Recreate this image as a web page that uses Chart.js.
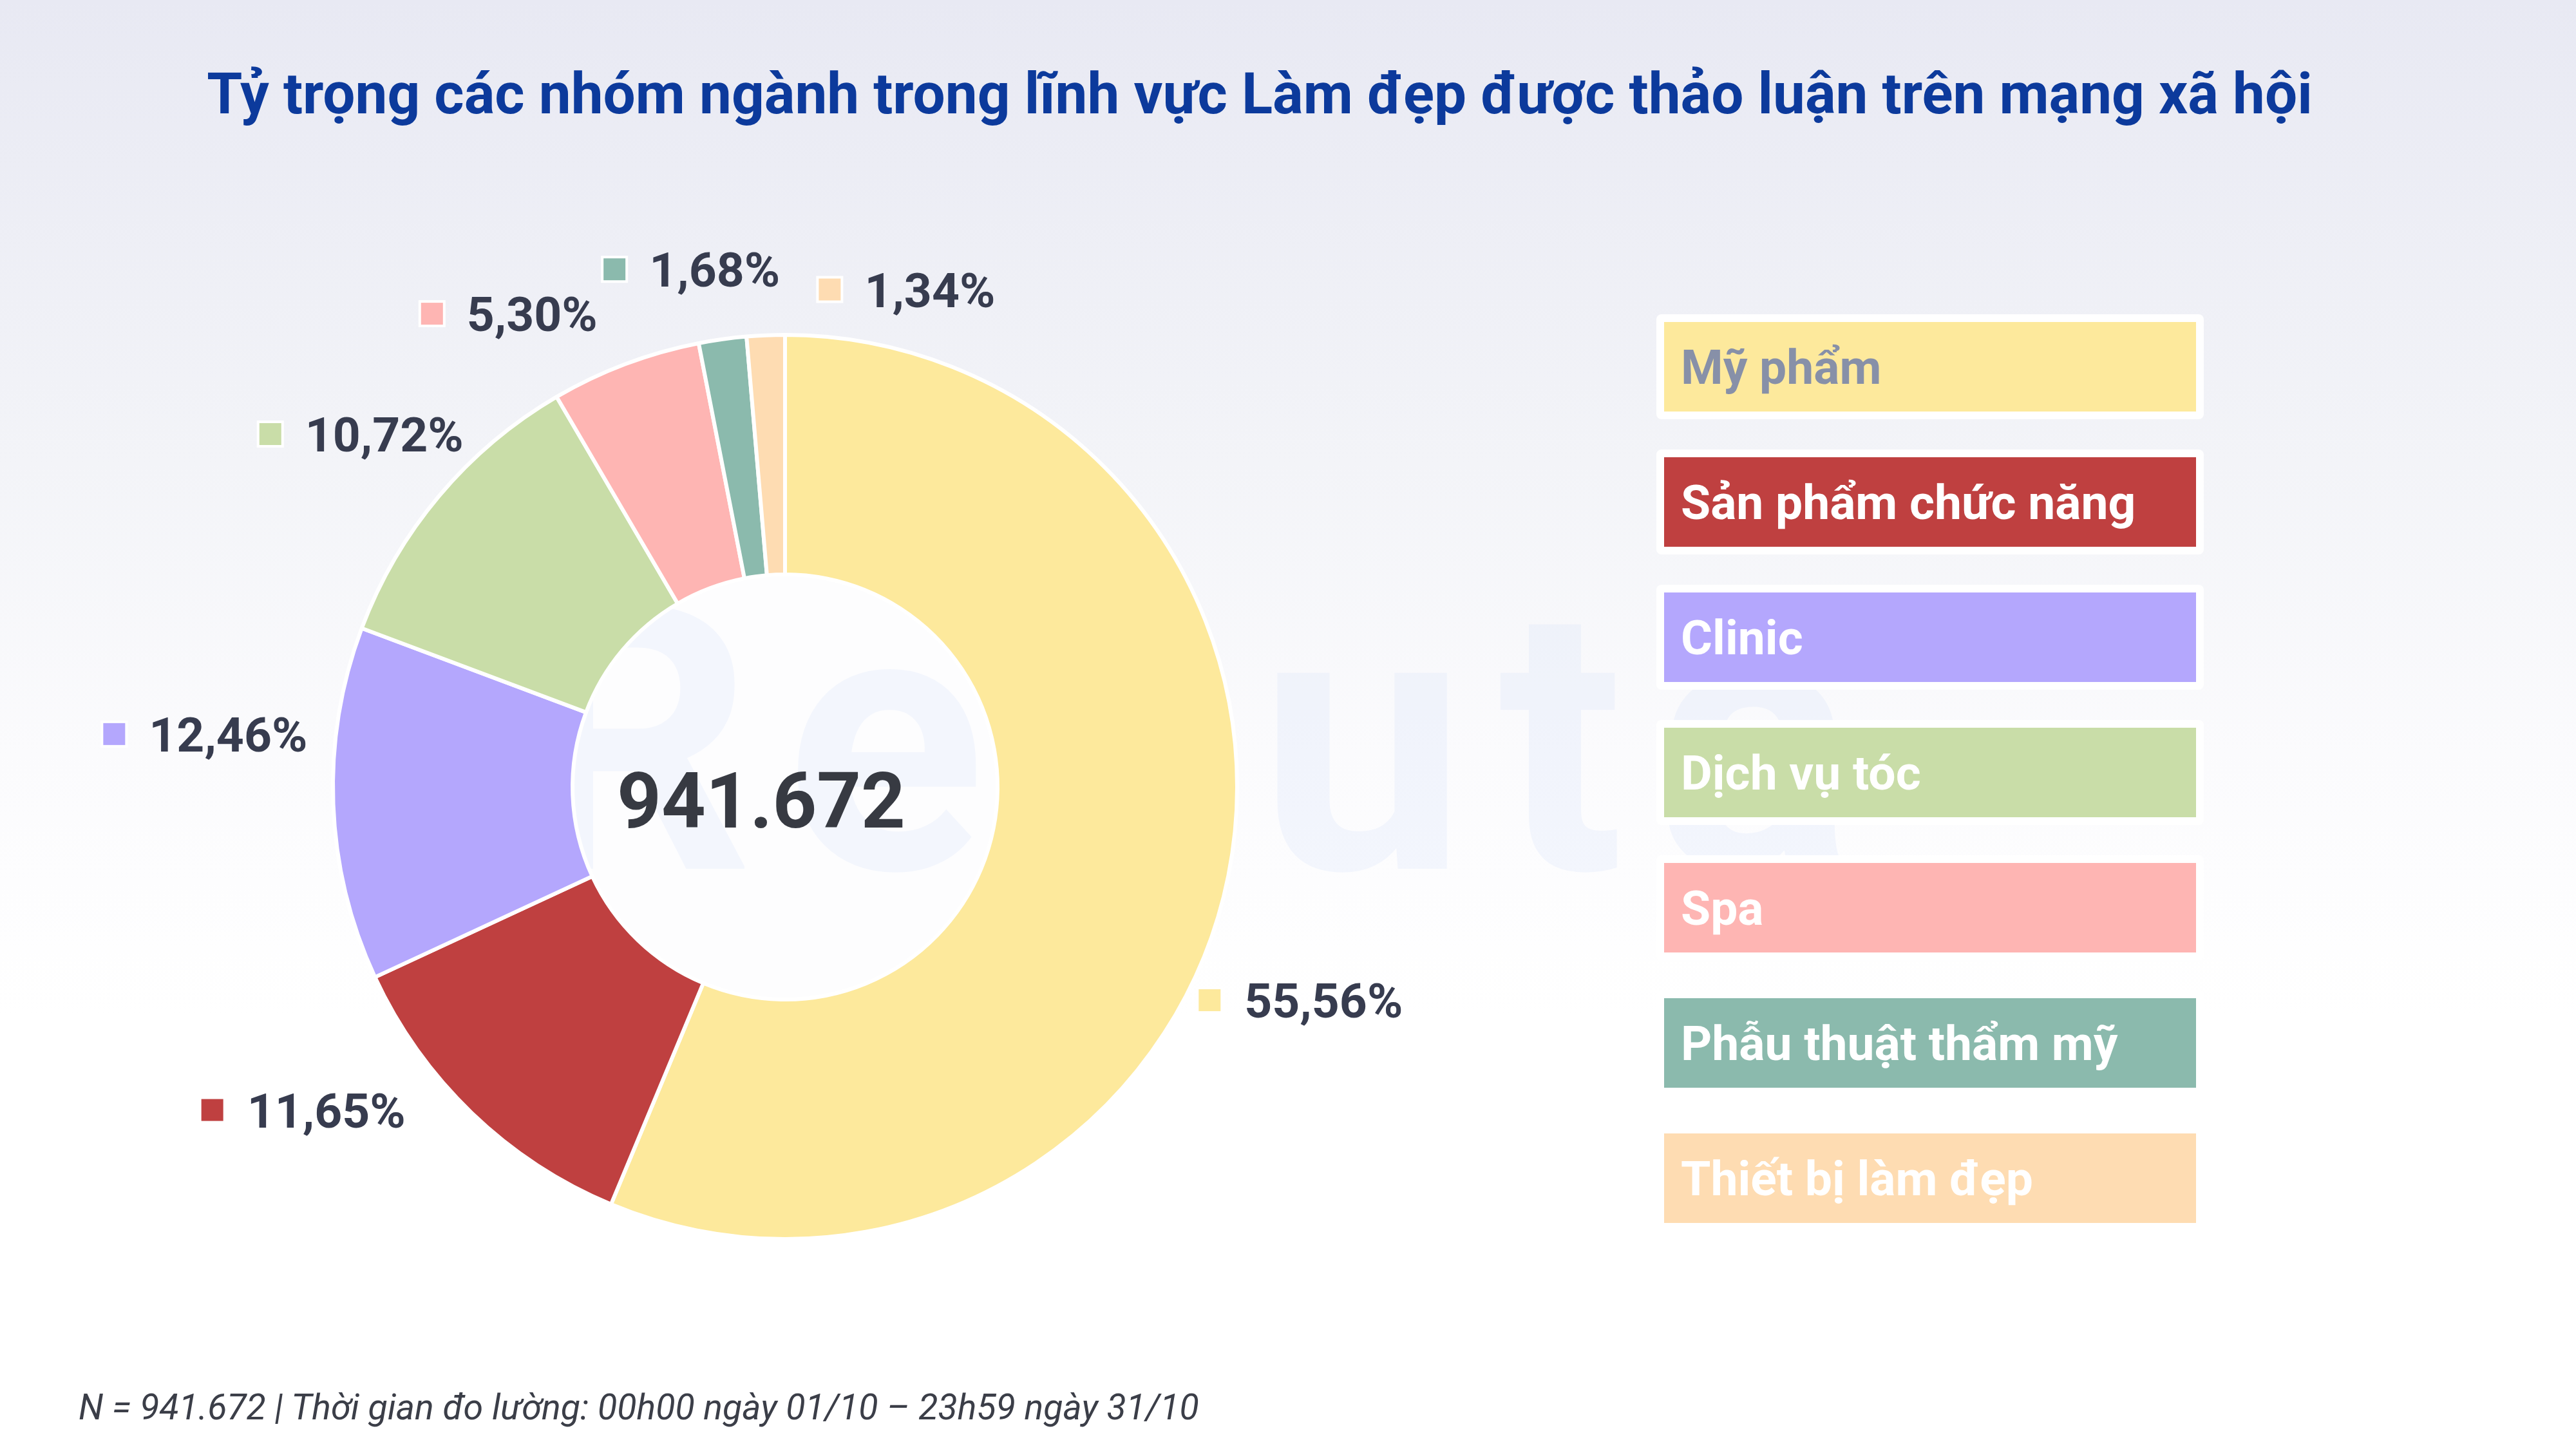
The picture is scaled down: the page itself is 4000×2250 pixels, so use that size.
<!DOCTYPE html>
<html lang="vi">
<head>
<meta charset="utf-8">
<title>Tỷ trọng các nhóm ngành trong lĩnh vực Làm đẹp</title>
<script src="https://cdn.jsdelivr.net/npm/chart.js@4/dist/chart.umd.min.js"></script>
<style>
  html, body { margin: 0; padding: 0; }
  body {
    width: 4000px;
    height: 2250px;
    position: relative;
    overflow: hidden;
    font-family: Roboto, "Noto Sans", sans-serif;
    background: linear-gradient(180deg, #e8e9f3 0%, #f3f4f8 32%, #fbfbfd 52%, #ffffff 70%, #ffffff 100%);
  }
  #chart { position: absolute; left: 0; top: 0; }
  #title {
    position: absolute; left: 0; top: 88px; width: 3912px;
    text-align: center; font-weight: 700; font-size: 89px; line-height: 116px;
    color: #0c3a9c; z-index: 2;
  }
  #legend { position: absolute; left: 2572px; top: 488px; z-index: 2; }
  .item {
    position: absolute; left: 0; padding: 12px;
    background: #ffffff; border-radius: 8px;
  }
  .item .box {
    width: 800px; height: 139px; padding-left: 26px;
    display: flex; align-items: center;
    font-weight: 700; font-size: 75px; color: #ffffff; white-space: nowrap;
  }
  #note {
    position: absolute; left: 122px; top: 2151px; z-index: 2;
    font-style: italic; font-size: 55.5px; line-height: 70px; color: #3b3e48;
  }
</style>
</head>
<body>
<div id="title">Tỷ trọng các nhóm ngành trong lĩnh vực Làm đẹp được thảo luận trên mạng xã hội</div>
<canvas id="chart" width="4000" height="2250"></canvas>
<div id="legend"></div>
<div id="note"></div>
<script>
// --- Data ---
const categories = [
  "Mỹ phẩm",
  "Sản phẩm chức năng",
  "Clinic",
  "Dịch vụ tóc",
  "Spa",
  "Phẫu thuật thẩm mỹ",
  "Thiết bị làm đẹp"
];
const shares = [55.56, 11.65, 12.46, 10.72, 5.30, 1.68, 1.34];
const totalMentions = 941672;
const periodText = "00h00 ngày 01/10 – 23h59 ngày 31/10";

// --- Style ---
const sliceColors = ["#fde99c", "#bf4040", "#b4a7fd", "#c9dda8", "#feb5b3", "#8bbaad", "#fedcb2"];
const legendTextColors = ["#8790a8", "#fff", "#fff", "#fff", "#fff", "#fff", "#fff"];

const fmtTotal = (n) => n.toLocaleString("vi-VN");
const fmtPct = (v) => v.toFixed(2).replace(".", ",") + "%";

document.getElementById("note").textContent =
  "N = " + fmtTotal(totalMentions) + " | Thời gian đo lường: " + periodText;

// HTML legend
const legendEl = document.getElementById("legend");
categories.forEach((name, i) => {
  const item = document.createElement("div");
  item.className = "item";
  item.style.top = (i * 210) + "px";
  const box = document.createElement("div");
  box.className = "box";
  box.style.background = sliceColors[i];
  box.style.color = legendTextColors[i];
  box.textContent = name;
  item.appendChild(box);
  legendEl.appendChild(item);
});

// outside labels, hole fill, watermark, center total
const donutDecor = {
  id: "donutDecor",
  beforeDatasetsDraw(chart, args, opts) {
    const arc = chart.getDatasetMeta(0).data[0];
    const p = arc.getProps(["x", "y", "innerRadius"], true);
    const ctx = chart.ctx;
    ctx.save();
    ctx.fillStyle = "#fdfdfe";
    ctx.beginPath();
    ctx.arc(p.x, p.y, p.innerRadius, 0, Math.PI * 2);
    ctx.fill();
    // faint watermark
    ctx.font = "700 576px Roboto";
    ctx.letterSpacing = "50px";
    ctx.fillStyle = "rgba(190, 210, 250, 0.15)";
    ctx.textBaseline = "alphabetic";
    ctx.fillText(opts.watermark, p.x - 419, p.y + 127);
    ctx.restore();
  },
  afterDatasetsDraw(chart, args, opts) {
    const ctx = chart.ctx;
    const meta = chart.getDatasetMeta(0);
    ctx.save();
    ctx.font = "700 75px Roboto";
    ctx.textAlign = "left";
    ctx.textBaseline = "alphabetic";
    let cx = 0, cy = 0;
    meta.data.forEach((arc, i) => {
      const p = arc.getProps(["x", "y", "startAngle", "endAngle", "outerRadius"], true);
      cx = p.x; cy = p.y;
      const mid = (p.startAngle + p.endAngle) / 2;
      const r = p.outerRadius * 1.09;
      const nudge = opts.nudge[i] || [0, 0];
      const ax = p.x + Math.cos(mid) * r + nudge[0];
      const ay = p.y + Math.sin(mid) * r + nudge[1];
      const txt = fmtPct(shares[i]);
      const tw = ctx.measureText(txt).width;
      let sqX, txX;
      if (ax > p.x) {
        sqX = ax;
        txX = ax + 34 + 37;
      } else {
        txX = ax - tw;
        sqX = txX - 37 - 34;
      }
      ctx.fillStyle = "#ffffff";
      ctx.fillRect(sqX - 4, ay - 21, 42, 42);
      ctx.fillStyle = sliceColors[i];
      ctx.fillRect(sqX, ay - 17, 34, 34);
      ctx.fillStyle = "#373c4f";
      ctx.fillText(txt, txX, ay + 27);
    });
    // total in the middle
    ctx.font = "700 120px Roboto";
    ctx.textAlign = "center";
    ctx.fillStyle = "#373a42";
    ctx.fillText(fmtTotal(totalMentions), cx - 37, cy + 63);
    ctx.restore();
  }
};

new Chart(document.getElementById("chart"), {
  type: "doughnut",
  data: {
    labels: categories,
    datasets: [{
      data: shares,
      backgroundColor: sliceColors,
      borderColor: "#ffffff",
      borderWidth: 6
    }]
  },
  options: {
    responsive: false,
    animation: false,
    cutout: "47%",
    layout: { padding: { left: 514, top: 517, right: 2076, bottom: 323 } },
    plugins: {
      legend: { display: false },
      tooltip: { enabled: false },
      donutDecor: {
        watermark: "Reputa",
        nudge: [[-108, 181], [-59, -50], [23, -111], [86, -55], [-21, -19], [98, -46], [85, -8]]
      }
    }
  },
  plugins: [donutDecor]
});
</script>
</body>
</html>
